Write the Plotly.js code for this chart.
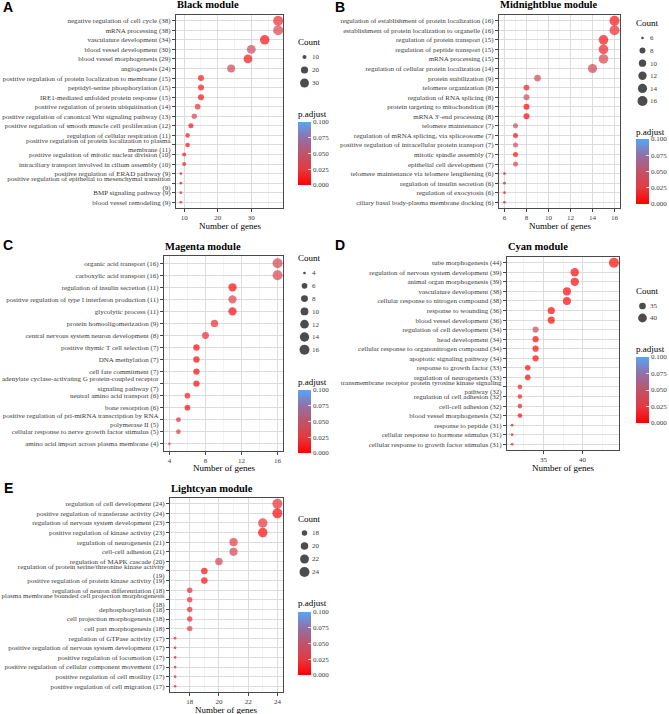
<!DOCTYPE html>
<html>
<head>
<meta charset="utf-8">
<script src="https://cdn.plot.ly/plotly-3.0.1.min.js"></script>
<style>
  html, body { margin: 0; padding: 0; background: #fff; }
  #chart { width: 669px; height: 714px; }
</style>
</head>
<body>
<div id="chart"></div>
<script>
// Black module
const blackTerms = [
  'negative regulation of cell cycle (38)',
  'mRNA processing (38)',
  'vasculature development (34)',
  'blood vessel development (30)',
  'blood vessel morphogenesis (29)',
  'angiogenesis (24)',
  'positive regulation of protein localization to membrane (15)',
  'peptidyl-serine phosphorylation (15)',
  'IRE1-mediated unfolded protein response (15)',
  'positive regulation of protein ubiquitination (14)',
  'positive regulation of canonical Wnt signaling pathway (13)',
  'positive regulation of smooth muscle cell proliferation (12)',
  'regulation of cellular respiration (11)',
  'positive regulation of protein localization to plasma<br>membrane (11)',
  'positive regulation of mitotic nuclear division (10)',
  'intraciliary transport involved in cilium assembly (10)',
  'positive regulation of ERAD pathway (9)',
  'positive regulation of epithelial to mesenchymal transition<br>(9)',
  'BMP signaling pathway (9)',
  'blood vessel remodeling (9)'
];
const blackCounts = [38, 38, 34, 30, 29, 24, 15, 15, 15, 14, 13, 12, 11, 11, 10, 10, 9, 9, 9, 9];
const blackPadj = [0.018, 0.032, 0.006, 0.042, 0.008, 0.036, 0.01, 0.01, 0.006, 0.022, 0.034, 0.006, 0.01, 0.006, 0.01, 0.01, 0.005, 0.005, 0.005, 0.005];
const blackBreaks = [10, 20, 30];

// Midnightblue module
const midnightTerms = [
  'regulation of establishment of protein localization (16)',
  'establishment of protein localization to organelle (16)',
  'regulation of protein transport (15)',
  'regulation of peptide transport (15)',
  'mRNA processing (15)',
  'regulation of cellular protein localization (14)',
  'protein stabilization (9)',
  'telomere organization (8)',
  'regulation of RNA splicing (8)',
  'protein targeting to mitochondrion (8)',
  "mRNA 3'-end processing (8)",
  'telomere maintenance (7)',
  'regulation of mRNA splicing, via spliceosome (7)',
  'positive regulation of intracellular protein transport (7)',
  'mitotic spindle assembly (7)',
  'epithelial cell development (7)',
  'telomere maintenance via telomere lengthening (6)',
  'regulation of insulin secretion (6)',
  'regulation of exocytosis (6)',
  'ciliary basal body-plasma membrane docking (6)'
];
const midnightCounts = [16, 16, 15, 15, 15, 14, 9, 8, 8, 8, 8, 7, 7, 7, 7, 7, 6, 6, 6, 6];
const midnightPadj = [0.008, 0.018, 0.008, 0.014, 0.032, 0.036, 0.038, 0.014, 0.04, 0.004, 0.004, 0.04, 0.005, 0.04, 0.005, 0.03, 0.004, 0.004, 0.004, 0.004];
const midnightBreaks = [6, 8, 10, 12, 14, 16];

// Magenta module
const magentaTerms = [
  'organic acid transport (16)',
  'carboxylic acid transport (16)',
  'regulation of insulin secretion (11)',
  'positive regulation of type I interferon production (11)',
  'glycolytic process (11)',
  'protein homooligomerization (9)',
  'central nervous system neuron development (8)',
  'positive thymic T cell selection (7)',
  'DNA methylation (7)',
  'cell fate commitment (7)',
  'adenylate cyclase-activating G protein-coupled receptor<br>signaling pathway (7)',
  'neutral amino acid transport (6)',
  'bone resorption (6)',
  'positive regulation of pri-miRNA transcription by RNA<br>polymerase II (5)',
  'cellular response to nerve growth factor stimulus (5)',
  'amino acid import across plasma membrane (4)'
];
const magentaCounts = [16, 16, 11, 11, 11, 9, 8, 7, 7, 7, 7, 6, 6, 5, 5, 4];
const magentaPadj = [0.034, 0.034, 0.004, 0.03, 0.004, 0.018, 0.018, 0.004, 0.004, 0.004, 0.004, 0.014, 0.004, 0.014, 0.03, 0.02];
const magentaBreaks = [4, 6, 8, 10, 12, 14, 16];

// Cyan module
const cyanTerms = [
  'tube morphogenesis (44)',
  'regulation of nervous system development (39)',
  'animal organ morphogenesis (39)',
  'vasculature development (38)',
  'cellular response to nitrogen compound (38)',
  'response to wounding (36)',
  'blood vessel development (36)',
  'regulation of cell development (34)',
  'head development (34)',
  'cellular response to organonitrogen compound (34)',
  'apoptotic signaling pathway (34)',
  'response to growth factor (33)',
  'regulation of neurogenesis (33)',
  'transmembrane receptor protein tyrosine kinase signaling<br>pathway (32)',
  'regulation of cell adhesion (32)',
  'cell-cell adhesion (32)',
  'blood vessel morphogenesis (32)',
  'response to peptide (31)',
  'cellular response to hormone stimulus (31)',
  'cellular response to growth factor stimulus (31)'
];
const cyanCounts = [44, 39, 39, 38, 38, 36, 36, 34, 34, 34, 34, 33, 33, 32, 32, 32, 32, 31, 31, 31];
const cyanPadj = [0.004, 0.003, 0.003, 0.003, 0.003, 0.003, 0.003, 0.045, 0.003, 0.003, 0.003, 0.003, 0.003, 0.012, 0.012, 0.012, 0.006, 0.004, 0.004, 0.004];
const cyanBreaks = [35, 40];

// Lightcyan module
const lightcyanTerms = [
  'regulation of cell development (24)',
  'positive regulation of transferase activity (24)',
  'regulation of nervous system development (23)',
  'positive regulation of kinase activity (23)',
  'regulation of neurogenesis (21)',
  'cell-cell adhesion (21)',
  'regulation of MAPK cascade (20)',
  'regulation of protein serine/threonine kinase activity<br>(19)',
  'positive regulation of protein kinase activity (19)',
  'regulation of neuron differentiation (18)',
  'plasma membrane bounded cell projection morphogenesis<br>(18)',
  'dephosphorylation (18)',
  'cell projection morphogenesis (18)',
  'cell part morphogenesis (18)',
  'regulation of GTPase activity (17)',
  'positive regulation of nervous system development (17)',
  'positive regulation of locomotion (17)',
  'positive regulation of cellular component movement (17)',
  'positive regulation of cell motility (17)',
  'positive regulation of cell migration (17)'
];
const lightcyanCounts = [24, 24, 23, 23, 21, 21, 20, 19, 19, 18, 18, 18, 18, 18, 17, 17, 17, 17, 17, 17];
const lightcyanPadj = [0.02, 0.004, 0.022, 0.004, 0.026, 0.036, 0.036, 0.006, 0.006, 0.018, 0.018, 0.018, 0.018, 0.026, 0.01, 0.01, 0.01, 0.01, 0.01, 0.01];
const lightcyanBreaks = [18, 20, 22, 24];

const W = 669, H = 714;
const fx = px => px / W;
const fy = py => 1 - py / H;

const padjScale = [
  [0, '#ff0000'], [0.25, '#e33a42'], [0.5, '#bf5468'], [0.75, '#9270a8'], [1, '#56a6f5']
];

// layout positions in pixels (left, top, right, bottom of each plot panel)
const panels = [
  { letter: 'A', title: 'Black module', terms: blackTerms, counts: blackCounts, padj: blackPadj, breaks: blackBreaks,
    xticks: [10, 20, 30], box: [176, 15, 283, 208], titleY: 5, xtitleY: 226, letterPos: [8, 7],
    leg: { x: 298, titleY: 42, first: 57, step: 13 }, cb: { x: 298, titleY: 114, top: 122, bottom: 185 } },
  { letter: 'B', title: 'Midnightblue module', terms: midnightTerms, counts: midnightCounts, padj: midnightPadj, breaks: midnightBreaks,
    xticks: [6, 8, 10, 12, 14, 16], box: [499, 15, 620, 208], titleY: 5, xtitleY: 226, letterPos: [340, 7],
    leg: { x: 636, titleY: 23, first: 38, step: 12.6 }, cb: { x: 636, titleY: 132, top: 139, bottom: 204 } },
  { letter: 'C', title: 'Magenta module', terms: magentaTerms, counts: magentaCounts, padj: magentaPadj, breaks: magentaBreaks,
    xticks: [4, 8, 12, 16], box: [164, 256, 283, 451], titleY: 246, xtitleY: 468, letterPos: [8, 245],
    leg: { x: 298, titleY: 258, first: 273, step: 12.8 }, cb: { x: 298, titleY: 382, top: 390, bottom: 453 } },
  { letter: 'D', title: 'Cyan module', terms: cyanTerms, counts: cyanCounts, padj: cyanPadj, breaks: cyanBreaks,
    xticks: [35, 40], box: [507, 257, 619, 450], titleY: 246, xtitleY: 468, letterPos: [340, 245],
    leg: { x: 636, titleY: 291, first: 306, step: 12 }, cb: { x: 636, titleY: 349, top: 357, bottom: 423 } },
  { letter: 'E', title: 'Lightcyan module', terms: lightcyanTerms, counts: lightcyanCounts, padj: lightcyanPadj, breaks: lightcyanBreaks,
    xticks: [18, 20, 22, 24], box: [170, 498, 282.5, 692], titleY: 488, xtitleY: 710, letterPos: [8, 488],
    leg: { x: 298, titleY: 519, first: 533, step: 13 }, cb: { x: 298, titleY: 603, top: 612, bottom: 675 } }
];

const traces = [];
const layout = {
  width: W, height: H,
  margin: { l: 0, r: 0, t: 0, b: 0, autoexpand: false },
  paper_bgcolor: '#fff', plot_bgcolor: '#fff',
  font: { family: 'Liberation Serif, Times New Roman, serif', color: '#3a3a3a', size: 7 },
  showlegend: false, hovermode: false,
  annotations: []
};

function addText(text, px, py, opts) {
  layout.annotations.push(Object.assign({
    text: text, xref: 'paper', yref: 'paper', x: fx(px), y: fy(py),
    xanchor: 'left', yanchor: 'middle', showarrow: false, borderpad: 0,
    font: { size: 9, color: '#000' }
  }, opts || {}));
}

panels.forEach((p, i) => {
  const mainN = 2 * i + 1, legN = 2 * i + 2;
  const xRef = mainN === 1 ? 'x' : 'x' + mainN, yRef = mainN === 1 ? 'y' : 'y' + mainN;
  const xKey = mainN === 1 ? 'xaxis' : 'xaxis' + mainN, yKey = mainN === 1 ? 'yaxis' : 'yaxis' + mainN;
  const lxRef = 'x' + legN, lyRef = 'y' + legN;

  const cmin = Math.min(...p.counts), cmax = Math.max(...p.counts);
  const dotSize = c => 2.7 + 7.3 * Math.sqrt((c - cmin) / (cmax - cmin));
  const pad = 0.05 * (cmax - cmin);
  const [left, top, right, bottom] = p.box;
  const step = p.xticks.length > 1 ? p.xticks[1] - p.xticks[0] : 5;
  const minorVals = [];
  for (let v = p.xticks[0] - step / 2; v <= p.xticks[p.xticks.length - 1] + step / 2 + 1e-9; v += step) minorVals.push(v);

  traces.push({
    type: 'scatter', mode: 'markers',
    x: p.counts, y: p.terms, xaxis: xRef, yaxis: yRef,
    marker: {
      size: p.counts.map(dotSize), color: p.padj,
      colorscale: padjScale, cmin: 0, cmax: 0.1, line: { width: 0 },
      showscale: true,
      colorbar: {
        x: fx(p.cb.x), xanchor: 'left', xpad: 0,
        y: fy(p.cb.top), yanchor: 'top', ypad: 0,
        len: p.cb.bottom - p.cb.top, lenmode: 'pixels',
        thickness: 13, thicknessmode: 'pixels',
        outlinewidth: 0, borderwidth: 0,
        tickmode: 'array', tickvals: [0, 0.025, 0.05, 0.075, 0.1], tickformat: '.3f',
        ticks: 'inside', ticklen: 3, tickcolor: '#fff', tickwidth: 0.8,
        tickfont: { size: 7, color: '#3a3a3a' },
        title: { text: '' }
      }
    }
  });

  layout[xKey] = {
    domain: [fx(left), fx(right)], anchor: yRef,
    range: [cmin - pad, cmax + pad], zeroline: false,
    tickmode: 'array', tickvals: p.xticks,
    ticks: 'outside', ticklen: 3, tickwidth: 0.9, tickcolor: '#333',
    showline: true, mirror: true, linecolor: '#4a4a4a', linewidth: 1,
    showgrid: true, gridcolor: '#dcdcdc', gridwidth: 1,
    minor: { tickmode: 'array', tickvals: minorVals, showgrid: true, gridcolor: '#ebebeb', gridwidth: 0.6, ticks: '' },
    tickfont: { size: 7, color: '#3a3a3a' }, automargin: false, fixedrange: true
  };
  layout[yKey] = {
    domain: [fy(bottom), fy(top)], anchor: xRef,
    type: 'category', categoryorder: 'array', categoryarray: p.terms,
    range: [p.terms.length - 0.4, -0.6],
    ticks: 'outside', ticklen: 3, tickwidth: 0.9, tickcolor: '#333',
    showline: true, mirror: true, linecolor: '#4a4a4a', linewidth: 1,
    showgrid: true, gridcolor: '#dcdcdc', gridwidth: 1,
    tickfont: { size: 7, color: '#3a3a3a' }, automargin: false, fixedrange: true
  };

  // Count size legend
  const lg = p.leg;
  traces.push({
    type: 'scatter', mode: 'markers',
    x: p.breaks.map(() => 0.5), y: p.breaks.map(String),
    xaxis: lxRef, yaxis: lyRef,
    marker: { size: p.breaks.map(dotSize), color: '#000', line: { width: 0 } }
  });
  layout['xaxis' + legN] = {
    domain: [fx(lg.x), fx(lg.x + 13)], anchor: lyRef, range: [0, 1],
    visible: false, fixedrange: true
  };
  layout['yaxis' + legN] = {
    domain: [fy(lg.first + (p.breaks.length - 0.5) * lg.step), fy(lg.first - lg.step / 2)],
    anchor: lxRef, side: 'right',
    type: 'category', categoryorder: 'array', categoryarray: p.breaks.map(String),
    range: [p.breaks.length - 0.5, -0.5],
    showgrid: false, showline: false, zeroline: false, ticks: '',
    tickfont: { size: 7, color: '#3a3a3a' }, automargin: false, fixedrange: true
  };

  addText('<b>' + p.title + '</b>', left, p.titleY, { font: { size: 10.5, color: '#000' } });
  addText('Number of genes', (left + right) / 2, p.xtitleY, { xanchor: 'center', font: { size: 9, color: '#000' } });
  addText(p.letter, p.letterPos[0], p.letterPos[1], {
    xanchor: 'center', font: { size: 14, color: '#000', family: 'Liberation Sans, Arial, sans-serif', weight: 'bold' }
  });
  addText('Count', lg.x - 1, lg.titleY, { font: { size: 9, color: '#000' } });
  addText('p.adjust', p.cb.x - 1, p.cb.titleY, { font: { size: 9, color: '#000' } });
});

Plotly.newPlot('chart', traces, layout, { displayModeBar: false, staticPlot: true });
</script>
</body>
</html>
